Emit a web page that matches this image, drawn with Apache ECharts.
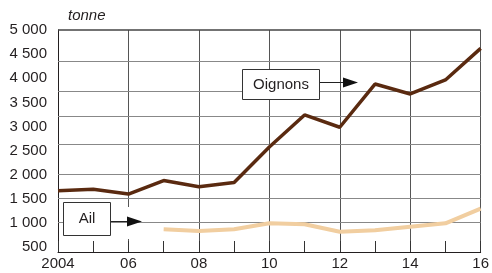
<!DOCTYPE html>
<html>
<head>
<meta charset="utf-8">
<script src="https://cdn.jsdelivr.net/npm/echarts@6/dist/echarts.min.js"></script>
<style>
html,body{margin:0;padding:0;background:#fff;}
#chart{width:492px;height:273px;}
</style>
</head>
<body>
<div id="chart"></div>
<script>
// ---- data ----
var years = ['2004','2005','2006','2007','2008','2009','2010','2011','2012','2013','2014','2015','2016'];
var oignons = [1670, 1700, 1600, 1880, 1750, 1840, 2575, 3240, 2985, 3880, 3675, 3965, 4620];
var ail = [null, null, null, 870, 835, 870, 995, 975, 820, 850, 925, 995, 1300];
var yTickValues = [500, 1000, 1500, 2000, 2500, 3000, 3500, 4000, 4500, 5000];
var gridValues = [1020, 1520, 2020, 2640, 3210, 3740, 4360];
var unitLabel = 'tonne';
var seriesNames = ['Oignons', 'Ail'];

var FONT = "'Liberation Sans', Arial, sans-serif";
function fmtThousands(v) {
  var s = String(v);
  if (s.length > 3) s = s.slice(0, s.length - 3) + ' ' + s.slice(s.length - 3);
  return s;
}

var chart = echarts.init(document.getElementById('chart'), null, {renderer: 'canvas'});
var option = {
  animation: false,
  backgroundColor: '#ffffff',
  title: {
    text: unitLabel,
    left: 63, top: 3,
    textStyle: {fontFamily: FONT, fontSize: 15, fontStyle: 'italic', fontWeight: 'normal', color: '#231f20'}
  },
  grid: {left: 58, right: 5, top: 30, bottom: 21, containLabel: false},
  xAxis: {
    type: 'category',
    data: years,
    boundaryGap: false,
    axisLine: {show: true, lineStyle: {color: '#231f20', width: 1}},
    axisTick: {show: true, inside: true, length: 11, interval: 0, lineStyle: {color: '#333', width: 1}},
    axisLabel: {
      interval: 1, margin: 4,
      fontFamily: FONT, fontSize: 15, color: '#231f20',
      formatter: function (v, i) { return i === 0 ? v : v.slice(2); }
    },
    splitLine: {
      show: true,
      interval: function (index) { return index % 2 === 0; },
      lineStyle: {color: '#555', width: 1}
    }
  },
  yAxis: {
    type: 'value',
    min: 400, max: 5000, interval: 100,
    axisLine: {show: true, lineStyle: {color: '#231f20', width: 1}},
    axisTick: {show: false},
    splitLine: {show: false},
    axisLabel: {
      margin: 11, fontFamily: FONT, fontSize: 15, color: '#231f20',
      formatter: function (v) { return yTickValues.indexOf(v) >= 0 ? fmtThousands(v) : ''; }
    }
  },
  series: [
    {
      type: 'line', name: 'grid', data: years.map(function () { return null; }),
      z: 1, silent: true, symbol: 'none',
      markLine: {
        silent: true, symbol: ['none', 'none'], animation: false,
        label: {show: false},
        data: gridValues.map(function (v) { return {yAxis: v, lineStyle: {color: '#888', width: 1, type: 'solid'}}; })
          .concat([{yAxis: 5000, lineStyle: {color: '#444', width: 1.5, type: 'solid'}}])
      }
    },
    {
      type: 'line', name: seriesNames[0], data: oignons, z: 5,
      symbol: 'none', lineStyle: {color: '#5a2a10', width: 3.5}
    },
    {
      type: 'line', name: seriesNames[1], data: ail, z: 5,
      symbol: 'none', connectNulls: false, lineStyle: {color: '#f1cea0', width: 4}
    }
  ],
  graphic: [
    // white patch behind the Ail arrow
    {type: 'rect', z: 50, shape: {x: 128, y: 207, width: 10, height: 32}, style: {fill: '#fff'}},
    // Oignons annotation
    {type: 'rect', z: 60, shape: {x: 242.5, y: 69.5, width: 77, height: 30}, style: {fill: '#fff', stroke: '#333', lineWidth: 1}},
    {type: 'text', z: 61, x: 281, y: 85, style: {text: seriesNames[0], fontFamily: FONT, fontSize: 15, fill: '#231f20', textAlign: 'center', textVerticalAlign: 'middle'}},
    {type: 'line', z: 60, shape: {x1: 320, y1: 82.5, x2: 346, y2: 82.5}, style: {stroke: '#222', lineWidth: 1}},
    {type: 'polygon', z: 60, shape: {points: [[343, 77.5], [358, 82.5], [343, 87.5]]}, style: {fill: '#111'}},
    // Ail annotation
    {type: 'rect', z: 60, shape: {x: 63.5, y: 202.5, width: 47, height: 33}, style: {fill: '#fff', stroke: '#333', lineWidth: 1}},
    {type: 'text', z: 61, x: 87, y: 219, style: {text: seriesNames[1], fontFamily: FONT, fontSize: 15, fill: '#231f20', textAlign: 'center', textVerticalAlign: 'middle'}},
    {type: 'line', z: 60, shape: {x1: 111, y1: 221.5, x2: 130, y2: 221.5}, style: {stroke: '#222', lineWidth: 1}},
    {type: 'polygon', z: 60, shape: {points: [[127, 216.5], [142, 221.5], [127, 226.5]]}, style: {fill: '#111'}}
  ]
};
chart.setOption(option);
</script>
</body>
</html>
